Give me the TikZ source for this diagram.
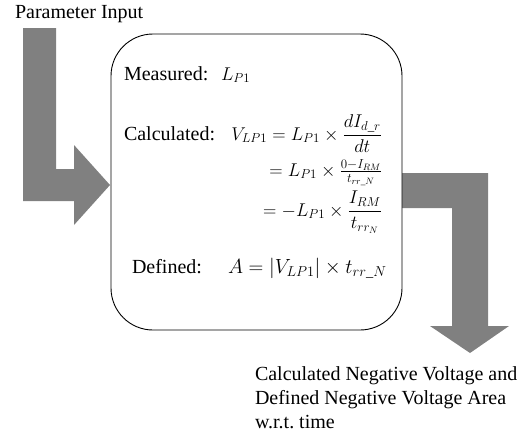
\documentclass[tikz,border=0pt]{standalone}
\usepackage{fix-cm}
\usepackage{amsmath}
\usepackage{fontspec}
\setmainfont{Liberation Serif}
\definecolor{arrowgrey}{HTML}{808080}
\tikzset{
  bigarrow/.style={fill=arrowgrey, draw=none},
  mainbox/.style={draw=black, line width=0.9pt, fill=white, rounded corners=42pt},
  txt/.style={inner sep=0pt, outer sep=0pt, font=\fontsize{20}{24}\selectfont},
  mth/.style={inner sep=0pt, outer sep=0pt, font=\fontsize{18.5}{22}\selectfont},
  mthbig/.style={inner sep=0pt, outer sep=0pt, font=\fontsize{20.5}{24}\selectfont},
}
\begin{document}
\begin{tikzpicture}[x=1pt,y=-1pt]
\useasboundingbox (0,0) rectangle (521,432);
% input arrow
\fill[bigarrow] (23,28) -- (56,28) -- (56,169) -- (74,169) -- (74,145) -- (110,185)
  -- (74,225) -- (74,201) -- (23,201) -- cycle;
% output arrow
\fill[bigarrow] (395,173) -- (488,173) -- (488,326) -- (509,326) -- (470,353)
  -- (430,326) -- (452,326) -- (452,208) -- (395,208) -- cycle;
% box
\draw[mainbox] (111,34) rectangle (402,330);
\node[txt, anchor=base west] (pin) at (15,18) {Parameter Input};
\node[txt, anchor=base west] (meas) at (124,80) {Measured:};
\node[mth, anchor=base west] (lp) at (221,80) {$L_{P1}$};
\node[txt, anchor=base west] (calc) at (124,140) {Calculated:};
\node[mth, anchor=base east] (eq1) at (382,140) {$V_{LP1} = L_{P1}\times \dfrac{dI_{d\_r}}{dt}$};
\node[mth, anchor=base east] (eq2) at (382,176) {$= L_{P1}\times \tfrac{0-I_{RM}}{t_{rr\_N}}$};
\node[mth, anchor=base east] (eq3) at (382,216) {$= -L_{P1}\times \dfrac{I_{RM}}{t_{rr_N}}$};
\node[txt, anchor=base west] (def) at (132,273) {Defined:};
\node[mthbig, anchor=base west] (eq4) at (228,273) {$A = |V_{LP1}|\times t_{rr\_N}$};
\node[txt, anchor=base west, align=left] (out) at (255,428)
  {Calculated Negative Voltage and\\Defined Negative Voltage Area\\w.r.t.\ time};
\end{tikzpicture}
\end{document}
